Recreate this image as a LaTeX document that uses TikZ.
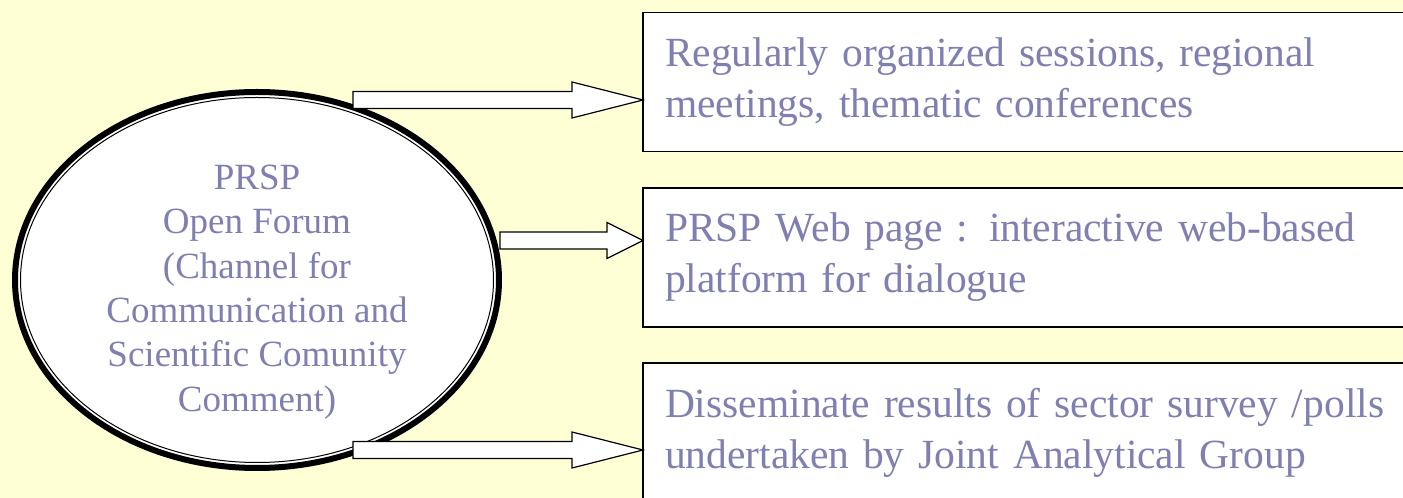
\documentclass[tikz,border=0pt]{standalone}
\usepackage{fontspec}
\setmainfont{Liberation Serif}
\usetikzlibrary{shapes.geometric}
\definecolor{fondjaune}{RGB}{255,255,214}
\definecolor{texte}{RGB}{127,127,178}
% flèche en bloc : queue, pointe, longueur de la tête
\newcommand{\fleche}[3]{%
  \draw[bloc] ([yshift=8.5pt]#1) -- ([xshift=-#3,yshift=8.5pt]#2) -- ([xshift=-#3,yshift=18pt]#2)
    -- (#2) -- ([xshift=-#3,yshift=-18pt]#2) -- ([xshift=-#3,yshift=-8.5pt]#2) -- ([yshift=-8.5pt]#1) -- cycle;}
\begin{document}
\begin{tikzpicture}[x=1pt,y=1pt,
  forum/.style={ellipse,draw=black,line width=6pt,fill=white,minimum width=484pt,minimum height=376pt,inner sep=0pt,outer sep=0pt},
  forumtexte/.style={align=center,text=texte,font=\fontsize{37}{44.4}\selectfont},
  cadre/.style={draw=black,line width=1.5pt,fill=white,anchor=north west,outer sep=0pt,text width=756pt,minimum height=139pt,inner xsep=22pt,align=left,text=texte,font=\fontsize{41.5}{51}\selectfont},
  bloc/.style={draw=black,line width=1.2pt,fill=white,line join=miter}]
  % le fond
  \useasboundingbox (0,0) rectangle (1403,498);
  \fill[fondjaune] (0,0) rectangle (1403,498);
  \clip (0,0) rectangle (1403,498);
  % l'ellipse
  \node[forum] (forum) at (257,218) {};
  \draw[line width=1pt] (forum.center) ellipse (236.5 and 182.5);
  \node[forumtexte] (forumlabel) at ([yshift=-12pt]forum.center) {PRSP\\Open Forum\\(Channel for\\Communication and\\Scientific Comunity\\Comment)};
  % les cadres
  \node[cadre] (cadre1) at (643,485.3) {Regularly organized sessions, regional\\meetings, thematic conferences};
  \node[cadre] (cadre2) at (643,310) {PRSP Web page : interactive web-based\\platform for dialogue};
  \node[cadre] (cadre3) at (643,135) {Disseminate results of sector survey /polls\\undertaken by Joint Analytical Group};
  % les flèches
  \coordinate (q1) at (353,398);
  \coordinate (q2) at (500,257.5);
  \coordinate (q3) at (353,48);
  \coordinate (p1) at (q1 -| cadre1.west);
  \coordinate (p2) at (q2 -| cadre2.west);
  \coordinate (p3) at (q3 -| cadre3.west);
  \fleche{q1}{p1}{71pt}
  \fleche{q2}{p2}{36pt}
  \fleche{q3}{p3}{71pt}
\end{tikzpicture}
\end{document}
